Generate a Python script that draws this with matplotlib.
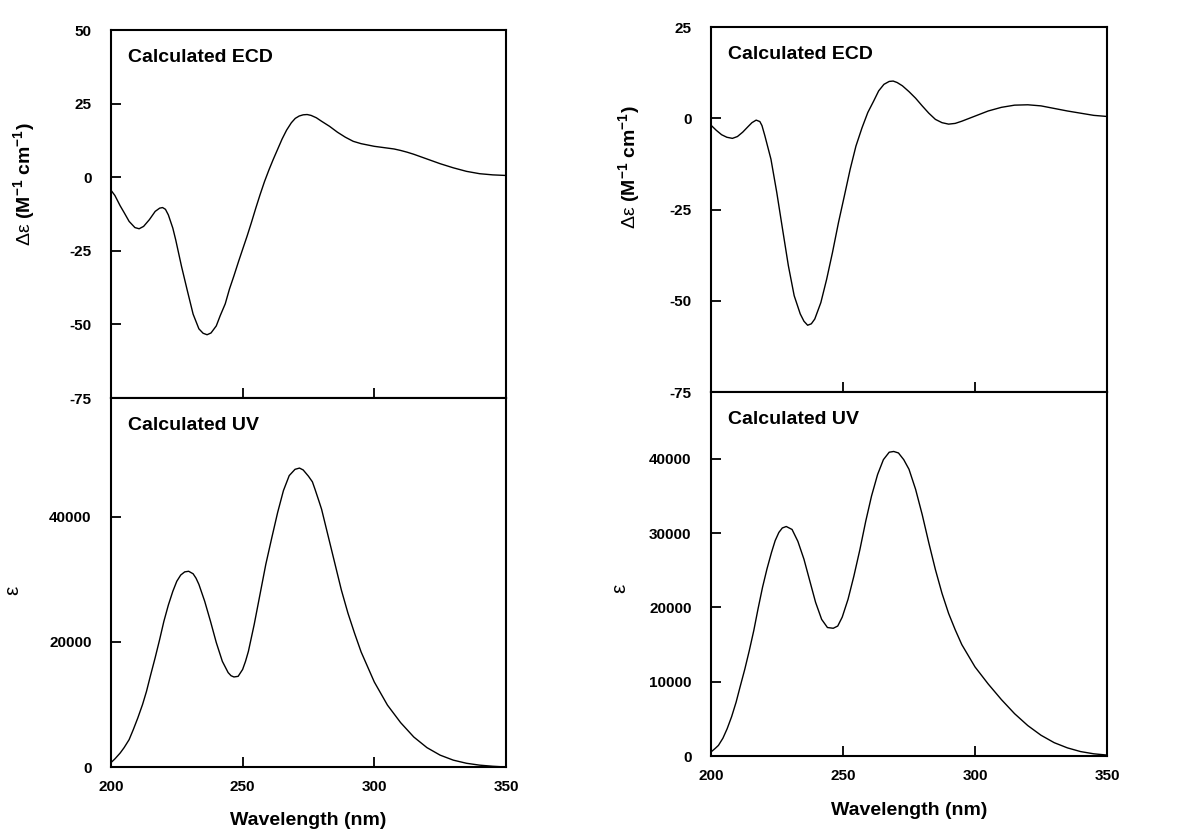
import numpy as np
import matplotlib
matplotlib.use('Agg')
import matplotlib.pyplot as plt

plt.rcParams['font.family'] = ['Liberation Sans', 'DejaVu Sans']
plt.rcParams['mathtext.fontset'] = 'custom'
plt.rcParams['mathtext.rm'] = 'Liberation Sans'
plt.rcParams['mathtext.bf'] = 'Liberation Sans:bold'
plt.rcParams['axes.unicode_minus'] = False

# ---- left compound: calculated ECD (wavelength nm, delta epsilon)
ecd1_wl = [200, 201.5, 203.5, 205, 206.9, 209.1, 210.7, 212.4, 214.6, 216.8, 218.5, 219.6,
           220.7, 221.8, 223.5, 224.6, 226.8, 229, 231.2, 233.4, 235, 236.5, 238, 240, 241.5,
           243.4, 245, 246.7, 248.5, 250, 251.7, 253.3, 255, 256.6, 258.3, 260, 261.6, 263.3,
           265, 266.7, 268.5, 270, 271.5, 273, 274.5, 276, 278, 280, 283, 286, 289, 292, 295,
           300, 305, 307.5, 310, 312.5, 315, 320, 325, 330, 335, 340, 345, 350]
ecd1_de = [-4.4, -6.2, -9.7, -12.0, -15.0, -17.1, -17.5, -16.7, -14.4, -11.6, -10.5, -10.3,
           -10.9, -12.8, -17.3, -21.3, -30.3, -38.5, -46.5, -51.5, -53.0, -53.5, -52.9, -50.5,
           -47.0, -43.0, -38.0, -33.5, -28.5, -24.5, -20.0, -15.5, -10.5, -6.0, -1.5, 2.5, 6.0,
           9.5, 13.0, 16.0, 18.5, 20.0, 20.8, 21.2, 21.3, 21.0, 20.2, 19.0, 17.3, 15.3, 13.6,
           12.2, 11.4, 10.5, 9.9, 9.6, 9.1, 8.5, 7.8, 6.2, 4.6, 3.2, 2.0, 1.2, 0.8, 0.6]

# ---- left compound: calculated UV (wavelength nm, epsilon)
uv1_wl = [200, 201.5, 203.5, 205, 206.9, 208.5, 210.2, 212, 213.5, 215, 216.8, 218.5, 220.1,
          221.8, 223.5, 225, 226.5, 228, 229.5, 231.2, 232.3, 233.4, 235.6, 237.8, 240, 242.3,
          244.5, 245.6, 246.7, 248.3, 250, 251.1, 252.2, 254.4, 256.6, 258.8, 261.1, 263.3,
          265.5, 267.7, 269.9, 271.6, 273, 275, 276.5, 277.5, 279, 280, 282.5, 285, 287.5,
          290, 292.5, 295, 300, 305, 310, 315, 320, 325, 330, 335, 340, 345, 350]
uv1_eps = [700, 1300, 2240, 3100, 4380, 6000, 7850, 10000, 12100, 14600, 17500, 20400, 23300,
           25900, 28100, 29700, 30700, 31200, 31300, 30900, 30200, 29200, 26500, 23300, 19900,
           16900, 15100, 14600, 14400, 14500, 15600, 16900, 18500, 22800, 27600, 32400, 36700,
           40700, 44200, 46600, 47600, 47800, 47500, 46500, 45600, 44400, 42500, 41200, 36900,
           32600, 28300, 24600, 21400, 18400, 13600, 9900, 7100, 4800, 3100, 1900, 1100, 600,
           300, 120, 0]

# ---- right compound: calculated ECD
ecd2_wl = [200, 202, 204, 206, 208.1, 210, 212, 214, 215.5, 217.1, 218.5, 219.3, 220.4, 222.7,
           224.9, 227.1, 229.3, 231.5, 233.8, 235.2, 236.6, 238, 239.3, 241.6, 243.8, 246,
           248.3, 250.5, 252.7, 254.9, 257.2, 259.4, 261.6, 263.5, 265.5, 267.5, 269, 270.5,
           272.5, 275, 277.5, 280, 282.5, 285, 287.5, 290, 292.5, 295, 300, 305, 310, 315, 320,
           325, 330, 335, 340, 345, 350]
ecd2_de = [-1.9, -3.3, -4.5, -5.2, -5.5, -5.0, -3.8, -2.3, -1.2, -0.5, -0.9, -2.0, -4.8, -11.2,
           -20.3, -30.4, -40.4, -48.6, -53.6, -55.6, -56.7, -56.3, -55.0, -50.5, -44.1, -36.8,
           -28.5, -21.3, -14.0, -7.6, -2.6, 1.6, 4.7, 7.5, 9.3, 10.1, 10.2, 9.8, 8.9, 7.3, 5.5,
           3.4, 1.4, -0.3, -1.2, -1.6, -1.4, -0.8, 0.6, 2.0, 3.0, 3.6, 3.7, 3.4, 2.7, 2.0, 1.4,
           0.8, 0.5]

# ---- right compound: calculated UV
uv2_wl = [200, 201.5, 202.8, 204.5, 206.1, 207.8, 209.5, 211, 212.8, 214.5, 216.2, 217.8,
          219.5, 221.2, 222.9, 224.3, 225.7, 227, 228.5, 230.7, 232.9, 235.2, 237.4, 239.6,
          241.9, 244.1, 246.3, 248, 249.7, 251.9, 254.1, 256.4, 258.6, 260.8, 263.1, 265.3,
          267.5, 269.2, 271, 273, 275, 277.5, 280, 282.5, 285, 287.5, 290, 292.5, 295, 300,
          305, 310, 315, 320, 325, 330, 335, 340, 345, 350]
uv2_eps = [550, 1000, 1430, 2400, 3670, 5300, 7250, 9300, 11700, 14200, 16900, 19800, 22700,
           25200, 27400, 29000, 30100, 30700, 30900, 30500, 28900, 26500, 23600, 20700, 18400,
           17300, 17200, 17500, 18700, 21100, 24200, 27800, 31600, 35000, 37900, 39900, 40900,
           41000, 40800, 39900, 38600, 35900, 32500, 28700, 25100, 21900, 19200, 17000, 15000,
           12000, 9700, 7600, 5700, 4100, 2800, 1800, 1100, 600, 300, 130]

x_ticks = [200, 250, 300, 350]
ecd1_ticks = [-75, -50, -25, 0, 25, 50]
ecd2_ticks = [-75, -50, -25, 0, 25]
uv1_ticks = [0, 20000, 40000]
uv2_ticks = [0, 10000, 20000, 30000, 40000]

ylab_ecd = r'$\mathrm{\Delta\varepsilon}$ (M$^{\mathbf{-1}}$ cm$^{\mathbf{-1}}$)'

fig = plt.figure(figsize=(11.93, 8.32), dpi=100)


def style(ax, yticks, ylim):
    ax.set_xlim(200, 350)
    ax.set_ylim(*ylim)
    ax.set_yticks(yticks)
    ax.set_xticks(x_ticks)
    for s in ax.spines.values():
        s.set_linewidth(1.5)
    ax.tick_params(direction='in', length=7, width=1.3, top=False, right=False,
                   labelsize=11, pad=14)
    ax.tick_params(axis='x', pad=9)
    for lab in ax.get_xticklabels() + ax.get_yticklabels():
        lab.set_fontweight('bold')


def column(left, width, ecd_box, uv_box, ecd_wl, ecd_de, uv_wl, uv_eps,
           ecd_ticks, ecd_lim, uv_ticks, uv_lim, lab_pos):
    ax1 = fig.add_axes([left, ecd_box[0], width, ecd_box[1]])
    ax2 = fig.add_axes([left, uv_box[0], width, uv_box[1]])
    ax1.plot(ecd_wl, ecd_de, color='black', lw=1.0)
    ax2.plot(uv_wl, uv_eps, color='black', lw=1.0)
    style(ax1, ecd_ticks, ecd_lim)
    style(ax2, uv_ticks, uv_lim)
    ax1.tick_params(axis='x', labelbottom=False)
    ax1.text(0.043, 0.925, 'Calculated ECD', transform=ax1.transAxes, fontsize=14,
             fontweight='bold', va='center')
    ax2.text(0.043, 0.925, 'Calculated UV', transform=ax2.transAxes, fontsize=14,
             fontweight='bold', va='center')
    ax1.set_ylabel(ylab_ecd, fontsize=14, fontweight='bold')
    ax1.yaxis.set_label_coords(lab_pos[0], lab_pos[1])
    ax2.set_ylabel('ε', fontsize=15)
    ax2.yaxis.set_label_coords(lab_pos[2], lab_pos[3])
    ax2.set_xlabel('Wavelength (nm)', fontsize=14, fontweight='bold')
    ax2.xaxis.set_label_coords(0.5, lab_pos[4])
    return ax1, ax2


column(0.0930, 0.3311, (0.5216, 0.4423), (0.0781, 0.4435),
       ecd1_wl, ecd1_de, uv1_wl, uv1_eps, ecd1_ticks, (-75, 50), uv1_ticks, (0, 59000),
       (-0.185, 0.58, -0.225, 0.48, -0.122))
column(0.5960, 0.3319, (0.5288, 0.4387), (0.0913, 0.4375),
       ecd2_wl, ecd2_de, uv2_wl, uv2_eps, ecd2_ticks, (-75, 25), uv2_ticks, (0, 49000),
       (-0.172, 0.616, -0.207, 0.46, -0.127))

fig.savefig('out.png', dpi=100)
